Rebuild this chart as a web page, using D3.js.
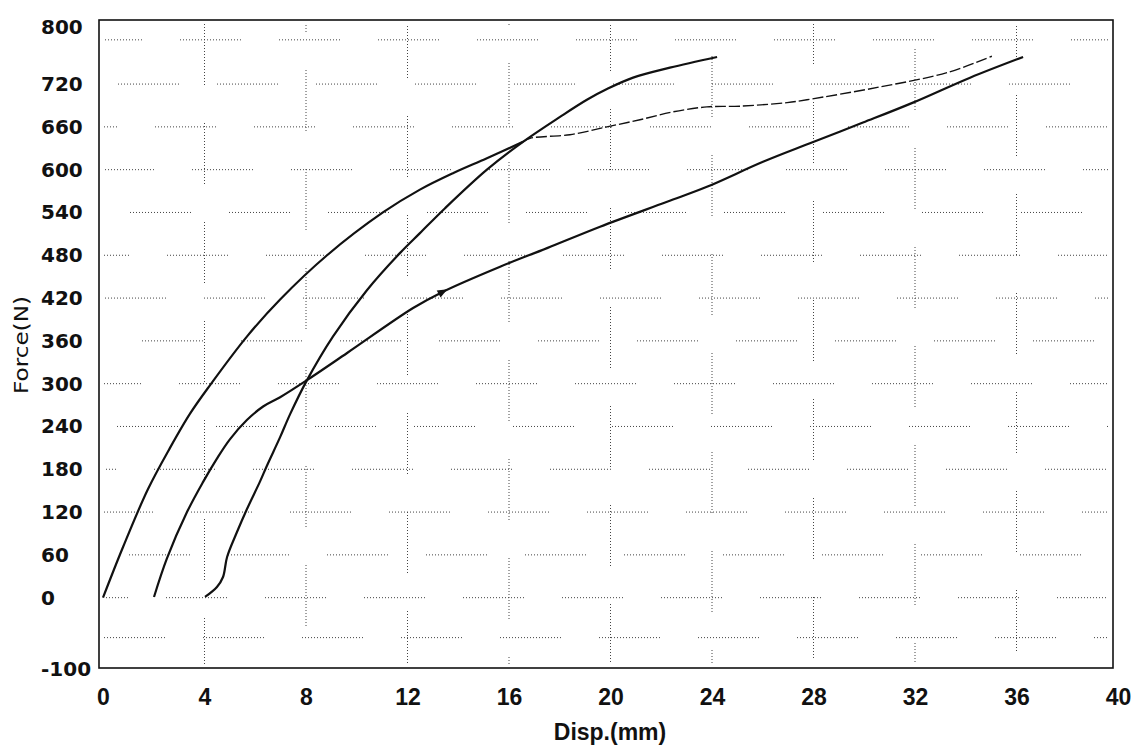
<!DOCTYPE html>
<html>
<head>
<meta charset="utf-8">
<script src="https://cdn.jsdelivr.net/npm/d3@7/dist/d3.min.js"></script>
<style>
  html, body { margin: 0; padding: 0; background: #fff; }
  svg { display: block; }
  text { fill: #111; }
</style>
</head>
<body>
<svg id="chart" width="1134" height="747"></svg>
<script>
// ---------- data ----------
const xTicks = [0, 4, 8, 12, 16, 20, 24, 28, 32, 36, 40];
const yTicks = [-100, 0, 60, 120, 180, 240, 300, 360, 420, 480, 540, 600, 660, 720, 800];

// Curve starting at the origin
const curveA_disp  = [0, 0.79, 1.77, 2.64, 3.43, 4.22, 5.67, 6.98, 8.83, 11.03, 12.49, 13.79, 15.13, 16.55];
const curveA_force = [0, 71, 152, 210, 258, 298, 366, 418, 480, 540, 572, 595, 616, 639];

// Thin continuation of curve A
const curveA2_disp  = [16.55, 16.83, 18.4, 19.86, 21.16, 22.46, 23.8, 25.1, 26.96, 27.74, 30.62, 33.26, 35.03];
const curveA2_force = [639, 644, 649, 660, 670, 681, 688, 689, 694, 698, 716, 736, 759];

// Curve starting at 2 mm
const curveB_disp  = [2.01, 2.52, 3.31, 3.94, 4.49, 5.0, 5.67, 6.31, 6.98, 8.04, 9.62, 12.22, 13.40, 15.65, 17.50, 19.59, 22.23, 23.80, 26.01, 27.86, 29.95, 31.92, 34.17, 36.26];
const curveB_force = [1, 55, 120, 162, 195, 222, 249, 268, 281, 305, 343, 406, 429, 464, 490, 520, 555, 576, 611, 637, 666, 694, 729, 758];

// Curve starting at 4 mm
const curveC_disp  = [4.02, 4.49, 4.73, 4.89, 5.28, 5.67, 6.19, 6.46, 6.98, 7.37, 8.04, 9.06, 10.4, 11.7, 12.49, 13.48, 15.13, 16.55, 18.01, 19.07, 19.86, 20.89, 22.34, 24.2];
const curveC_force = [1, 15, 29, 57, 92, 124, 163, 185, 225, 257, 305, 366, 431, 483, 511, 546, 600, 639, 674, 698, 713, 729, 743, 758];

// grid positions (as seen on the scan)
const gridX = [4, 8, 12, 16, 20, 24, 28, 32, 36];
const gridY = [-56, 0, 60, 120, 180, 240, 300, 360, 420, 480, 540, 600, 660, 720, 782];

// ---------- drawing ----------
const svg = d3.select("#chart");
const x = d3.scaleLinear().domain([0, 40]).range([103, 1118]);
const y = d3.scaleLinear().domain([-100, 800]).range([669, 27]);

// fragmented dotted grid
const dots = Array(20).fill("1,2").join(",") + ",1,38";
const patLen = 20 * 3 + 39;
const grid = svg.append("g");
gridX.forEach((v, i) => {
  grid.append("line")
    .attr("x1", x(v)).attr("x2", x(v))
    .attr("y1", 24).attr("y2", 664)
    .attr("stroke", "#444").attr("stroke-width", 1)
    .attr("stroke-dasharray", dots)
    .attr("stroke-dashoffset", (i * 53) % patLen);
});
gridY.forEach((v, i) => {
  grid.append("line")
    .attr("x1", 104).attr("x2", 1108)
    .attr("y1", y(v)).attr("y2", y(v))
    .attr("stroke", "#444").attr("stroke-width", 1)
    .attr("stroke-dasharray", dots)
    .attr("stroke-dashoffset", (i * 37) % patLen);
});

// frame
svg.append("rect")
  .attr("x", 99).attr("y", 20)
  .attr("width", 1113 - 99).attr("height", 668 - 20)
  .attr("fill", "none").attr("stroke", "#111").attr("stroke-width", 1.6);

// x axis labels
const xAxis = d3.axisBottom(x).tickValues(xTicks).tickSize(0).tickPadding(0).tickFormat(d => String(d));
const gx = svg.append("g").attr("transform", "translate(0,705)").call(xAxis);
gx.select(".domain").remove();
gx.selectAll("text").attr("dy", 0).attr("y", 0)
  .attr("font-size", 23).attr("font-weight", "bold")
  .style("font-family", '"Liberation Sans", Arial, sans-serif').attr("fill", "#111");

// y axis labels (left aligned, as in the scan)
const yAxis = d3.axisLeft(y).tickValues(yTicks).tickSize(0).tickPadding(0).tickFormat(d => String(d));
const gy = svg.append("g").attr("transform", "translate(41,0)").call(yAxis);
gy.select(".domain").remove();
gy.selectAll("text").attr("text-anchor", "start").attr("x", 0)
  .attr("font-size", 20).attr("font-weight", "bold")
  .style("font-family", '"DejaVu Sans", sans-serif').attr("fill", "#111");

svg.append("text").attr("x", 610).attr("y", 740).attr("text-anchor", "middle")
  .style("font-family", '"Liberation Sans", Arial, sans-serif')
  .attr("font-size", 23).attr("font-weight", "bold").text("Disp.(mm)");
svg.append("text").attr("transform", "translate(28,345) rotate(-90)").attr("text-anchor", "middle")
  .style("font-family", '"DejaVu Sans", sans-serif')
  .attr("font-size", 20).attr("textLength", 98).attr("lengthAdjust", "spacingAndGlyphs")
  .text("Force(N)");

// curves
const line = d3.line().x(d => x(d[0])).y(d => y(d[1])).curve(d3.curveCatmullRom.alpha(0.5));
const zip = (a, b) => a.map((v, i) => [v, b[i]]);

svg.append("path").datum(zip(curveA2_disp, curveA2_force)).attr("d", line)
  .attr("fill", "none").attr("stroke", "#111").attr("stroke-width", 1.4).attr("stroke-dasharray", "11,3");
[[curveA_disp, curveA_force], [curveB_disp, curveB_force], [curveC_disp, curveC_force]].forEach(([dx, fy]) => {
  svg.append("path").datum(zip(dx, fy)).attr("d", line)
    .attr("fill", "none").attr("stroke", "#111").attr("stroke-width", 2.2);
});

// small arrow marker on curve B
const ai = curveB_disp.indexOf(13.40);
const p0 = [x(curveB_disp[ai - 1]), y(curveB_force[ai - 1])];
const p1 = [x(curveB_disp[ai]), y(curveB_force[ai])];
const ang = Math.atan2(p1[1] - p0[1], p1[0] - p0[0]) * 180 / Math.PI;
svg.append("path").attr("d", "M5,0 L-5,-4 L-5,4 Z")
  .attr("transform", `translate(${p1[0]},${p1[1]}) rotate(${ang})`).attr("fill", "#111");
</script>
</body>
</html>
